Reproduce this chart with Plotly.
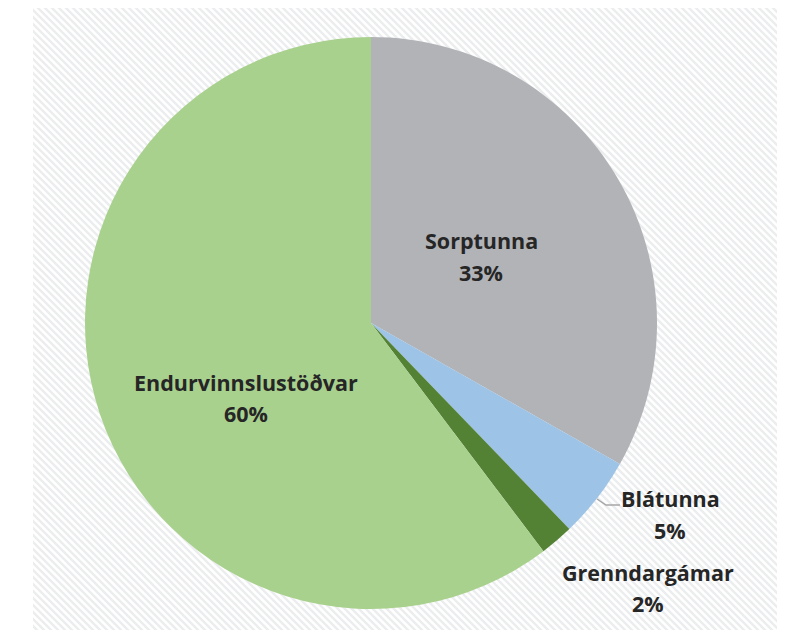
import base64
import plotly.graph_objects as go

categories = ["Sorptunna", "Blátunna", "Grenndargámar", "Endurvinnslustöðvar"]
values = [33.2, 4.6, 1.9, 60.3]
colors = ["#B2B3B7", "#9DC3E6", "#548235", "#A9D18E"]
pct_labels = ["33%", "5%", "2%", "60%"]

W, H = 785, 630
OFF = 8  # page body margin

# hatched background as an inline SVG image (page x 33..783, y 3..bottom)
s = 7
bw, bh = 783 - 33, H + 20
svg = f'''<svg xmlns="http://www.w3.org/2000/svg" width="{bw}" height="{bh}">
<defs><pattern id="p" patternUnits="userSpaceOnUse" width="{s}" height="{s}">
<path d="M0,0 L{s},{s} M{s-1},-1 l2,2 M-1,{s-1} l2,2" stroke="#ECEDEE" stroke-width="2.4"/>
</pattern></defs>
<rect width="{bw}" height="{bh}" fill="#FFFFFF"/>
<rect width="{bw}" height="{bh}" fill="url(#p)"/>
</svg>'''
src = "data:image/svg+xml;base64," + base64.b64encode(svg.encode()).decode()

cx, cy, r = 371 - OFF, 323 - OFF, 286

fig = go.Figure(go.Pie(
    labels=categories, values=values, sort=False, direction="clockwise", rotation=0,
    marker=dict(colors=colors, line=dict(width=0)),
    textinfo="none", hoverinfo="label+percent",
    domain=dict(x=[(cx - r) / W, (cx + r) / W], y=[(H - cy - r) / H, (H - cy + r) / H]),
    showlegend=False,
))

font = dict(family="'Open Sans', sans-serif", size=21.5, color="#262626")
label_pos = {
    "Sorptunna": (481, 240, 272),
    "Blátunna": (670, 498, 530),
    "Grenndargámar": (648, 572, 603),
    "Endurvinnslustöðvar": (246, 382, 413),
}
anns = []
for cat, pct in zip(categories, pct_labels):
    x, y1, y2 = label_pos[cat]
    for txt, yy in ((cat, y1), (pct, y2)):
        anns.append(dict(x=(x - OFF) / W, y=1 - (yy - OFF) / H, xref="paper", yref="paper",
                         text=f"<b>{txt}</b>", showarrow=False, font=font,
                         xanchor="center", yanchor="middle"))

def px(x, y):
    return f"{(x - OFF) / W},{1 - (y - OFF) / H}"

fig.update_layout(
    width=W, height=H, margin=dict(l=0, r=0, t=0, b=0),
    paper_bgcolor="white", plot_bgcolor="white",
    annotations=anns,
    images=[dict(source=src, xref="paper", yref="paper", x=(33 - OFF) / W, y=1 - (3 - OFF) / H,
                 sizex=bw / W, sizey=bh / H, sizing="stretch", xanchor="left",
                 yanchor="top", layer="below")],
    shapes=[dict(type="path", xref="paper", yref="paper",
                 path=f"M {px(597, 499)} L {px(606, 505)} L {px(620, 505)}",
                 line=dict(color="#A6A6A6", width=1.5))],
)

fig.write_html("out.html")
